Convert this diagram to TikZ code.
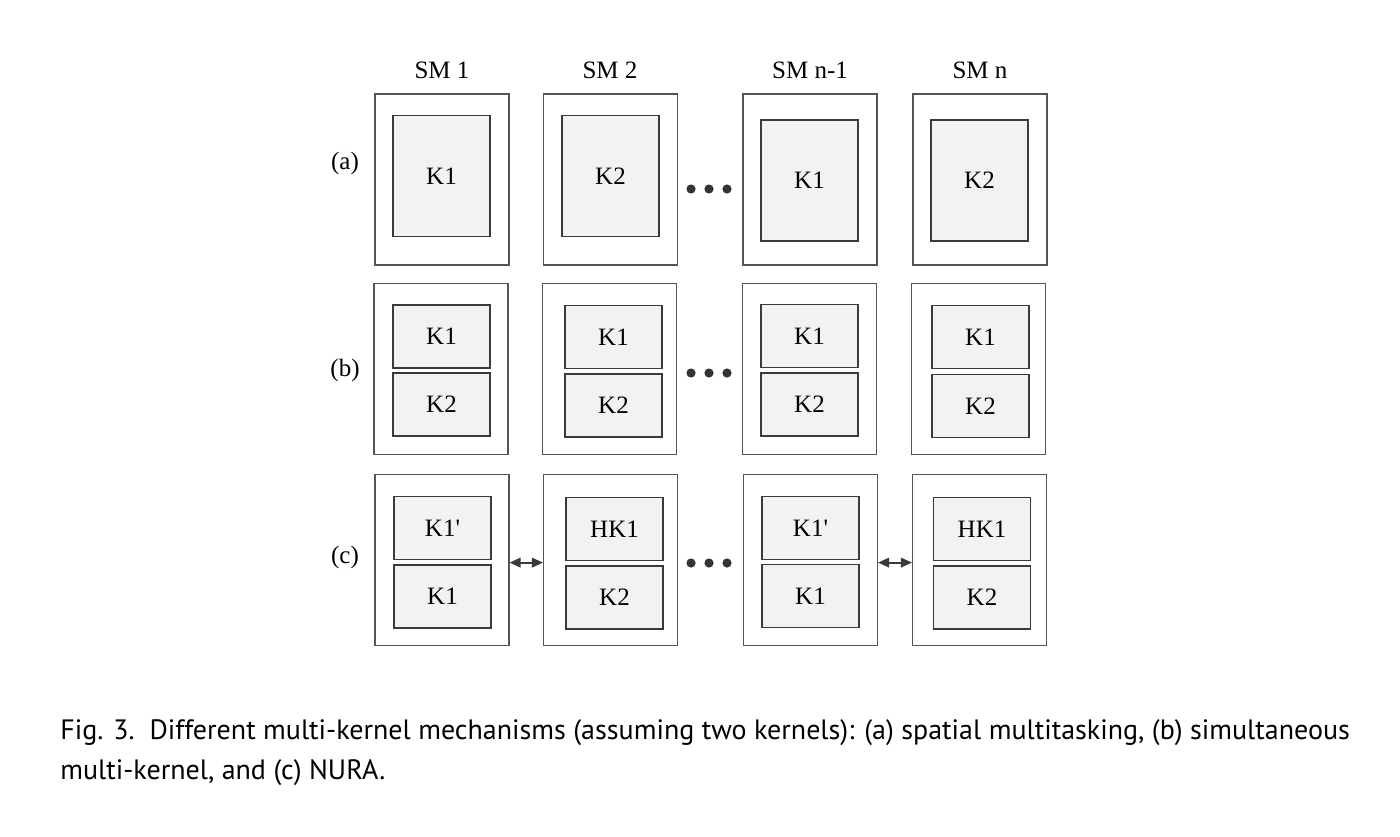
\documentclass[tikz,border=0pt]{standalone}
\usepackage{fontspec}
\setmainfont{Liberation Serif}
\newfontfamily\capfont{PT Sans}
\usetikzlibrary{arrows.meta}
\definecolor{ln}{HTML}{3A3A3A}
\definecolor{oln}{HTML}{555555}
\definecolor{kfill}{HTML}{F2F2F2}
\begin{document}
\begin{tikzpicture}[x=0.5pt,y=-0.5pt,
  smbox/.style={draw=oln,line width=0.55pt,fill=white,minimum width=67pt,minimum height=85.5pt,inner sep=0pt},
  kbig/.style={draw=ln,line width=0.55pt,fill=kfill,minimum width=48.5pt,minimum height=60.5pt,inner sep=0pt,font=\fontsize{12.5pt}{14pt}\selectfont},
  ksmall/.style={draw=ln,line width=0.55pt,fill=kfill,minimum width=48.5pt,minimum height=31.5pt,inner sep=0pt,font=\fontsize{12.5pt}{14pt}\selectfont},
  lbl/.style={font=\fontsize{12.5pt}{14pt}\selectfont,text=black,inner sep=0pt},
  dbl/.style={{Triangle[length=5.5pt,width=4.8pt]}-{Triangle[length=5.5pt,width=4.8pt]},draw=ln,fill=ln,line width=0.9pt},
  dot/.style={fill=ln!90!black}
]
\useasboundingbox (0,0) rectangle (1400,836);
% column titles
\node[lbl] (t1) at (442,70) {SM 1};
\node[lbl] (t2) at (610,70) {SM 2};
\node[lbl] (t3) at (810,70) {SM n-1};
\node[lbl] (t4) at (980,70) {SM n};
% row labels
\node[lbl] (ra) at (345,163) {(a)};
\node[lbl] (rb) at (345,370) {(b)};
\node[lbl] (rc) at (345,557) {(c)};
% row (a)
\node[smbox] (a1) at (442,179.5) {};
\node[smbox] (a2) at (610.5,179.5) {};
\node[smbox] (a3) at (810,179.5) {};
\node[smbox] (a4) at (980,179.5) {};
\node[kbig] (a1k) at (441.5,176) {K1};
\node[kbig] (a2k) at (610.5,176) {K2};
\node[kbig] (a3k) at (809.5,180.5) {K1};
\node[kbig] (a4k) at (979.5,180.5) {K2};
% row (b)
\node[smbox] (b1) at (441,369) {};
\node[smbox] (b2) at (609.5,369) {};
\node[smbox] (b3) at (809.5,369) {};
\node[smbox] (b4) at (978.5,369) {};
\node[ksmall] (b1t) at (441.5,336.5) {K1};
\node[ksmall] (b1b) at (441.5,404.5) {K2};
\node[ksmall] (b2t) at (613.5,337) {K1};
\node[ksmall] (b2b) at (613.5,405.5) {K2};
\node[ksmall] (b3t) at (809.5,336) {K1};
\node[ksmall] (b3b) at (809.5,404.5) {K2};
\node[ksmall] (b4t) at (980.5,337) {K1};
\node[ksmall] (b4b) at (980.5,406) {K2};
% row (c)
\node[smbox] (c1) at (442,560) {};
\node[smbox] (c2) at (610.5,560) {};
\node[smbox] (c3) at (810.5,560) {};
\node[smbox] (c4) at (979.5,560) {};
\node[ksmall] (c1t) at (442.5,528) {K1\textquotesingle};
\node[ksmall] (c1b) at (442.5,596.5) {K1};
\node[ksmall] (c2t) at (614.5,529) {HK1};
\node[ksmall] (c2b) at (614.5,597.5) {K2};
\node[ksmall] (c3t) at (810.5,528) {K1\textquotesingle};
\node[ksmall] (c3b) at (810.5,596) {K1};
\node[ksmall] (c4t) at (982,529) {HK1};
\node[ksmall] (c4b) at (982,597.5) {K2};
% arrows
\draw[dbl] ([yshift=-1.3pt]c1.east) -- ([yshift=-1.3pt]c2.west);
\draw[dbl] ([yshift=-1.3pt]c3.east) -- ([yshift=-1.3pt]c4.west);
% dots
\foreach \yy in {189,373,563}{
  \foreach \xx in {691,709,727}{
    \fill[dot] (\xx,\yy) circle (2.3pt);
  }
}
% caption
\node[anchor=north west,align=left,inner sep=0pt,font=\capfont\fontsize{14pt}{20pt}\selectfont] (cap) at (60,719)
 {Fig. 3.\ \ Different multi-kernel mechanisms (assuming two kernels): (a) spatial multitasking, (b) simultaneous\\
  multi-kernel, and (c) NURA.};
\end{tikzpicture}
\end{document}
